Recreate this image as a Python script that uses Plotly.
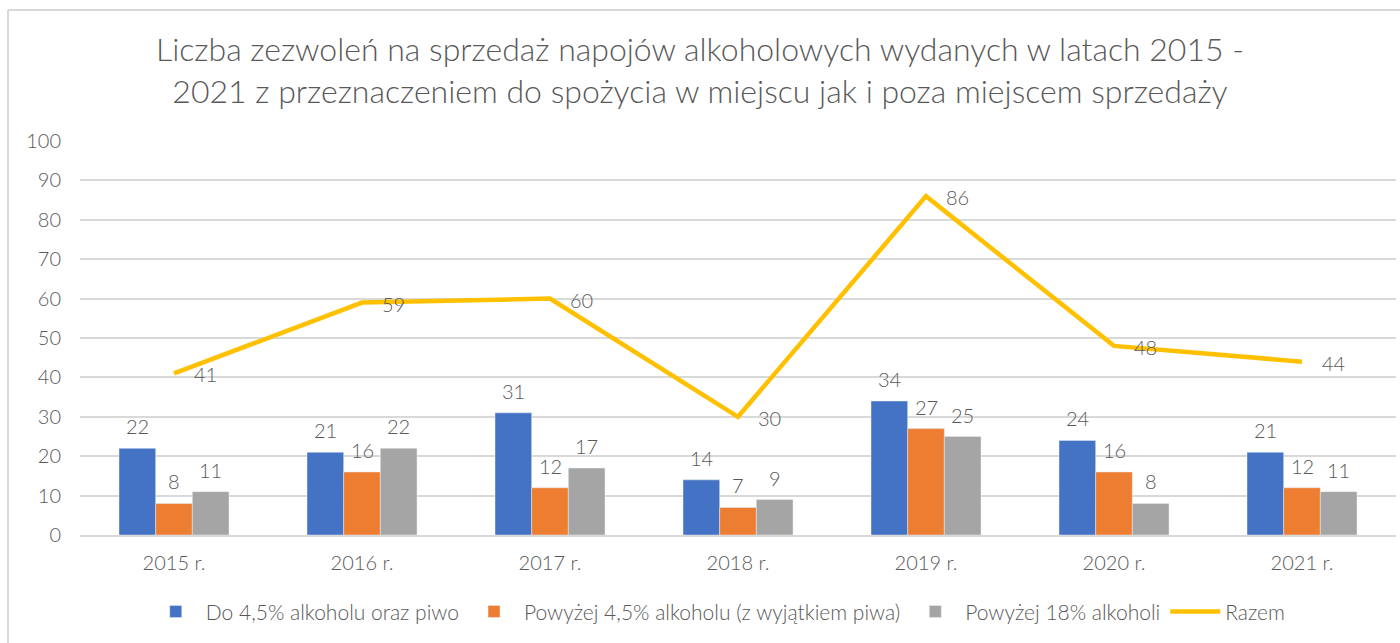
"""Liczba zezwoleń na sprzedaż napojów alkoholowych 2015-2021."""

import plotly.graph_objects as go

years = ["2015 r.", "2016 r.", "2017 r.", "2018 r.", "2019 r.", "2020 r.", "2021 r."]
do_45 = [22, 21, 31, 14, 34, 24, 21]
powyzej_45 = [8, 16, 12, 7, 27, 16, 12]
powyzej_18 = [11, 22, 17, 9, 25, 8, 11]
razem = [41, 59, 60, 30, 86, 48, 44]
y_ticks = list(range(0, 101, 10))

TXT = "#595959"
FONT = "Lato"
BAR_PX = 36.7  # pixel width of one bar in a group

series = [
    ("Do 4,5% alkoholu oraz piwo", do_45, "#4472C4"),
    ("Powyżej 4,5% alkoholu (z wyjątkiem piwa)", powyzej_45, "#ED7D31"),
    ("Powyżej 18% alkoholi", powyzej_18, "#A5A5A5"),
]

fig = go.Figure()

for idx, (name, vals, color) in enumerate(series):
    fig.add_trace(
        go.Bar(x=years, y=vals, name=name, marker_color=color)
    )
    # value labels above bars
    for yr, v in zip(years, vals):
        fig.add_annotation(
            x=yr, y=v, text=str(v), showarrow=False,
            xshift=(idx - 1) * BAR_PX, yshift=8, yanchor="bottom",
            font=dict(size=20, color=TXT, family=FONT, weight=300),
        )

fig.add_trace(
    go.Scatter(
        x=years,
        y=razem,
        name="Razem",
        mode="lines",
        line=dict(color="#FFC000", width=4.5),
        cliponaxis=False,
    )
)
for yr, v in zip(years, razem):
    fig.add_annotation(
        x=yr, y=v, text=str(v), showarrow=False,
        xanchor="left", xshift=18, yshift=-1,
        font=dict(size=20, color=TXT, family=FONT, weight=300),
    )

# outer chart border (left and top only visible)
fig.add_shape(type="line", xref="paper", yref="paper",
              x0=-0.0547, x1=-0.0547, y0=-0.3, y1=1.3325,
              line=dict(color="#D9D9D9", width=2))
fig.add_shape(type="line", xref="paper", yref="paper",
              x0=-0.0547, x1=1.01, y0=1.3325, y1=1.3325,
              line=dict(color="#D9D9D9", width=2))

fig.update_layout(
    title=dict(
        text="Liczba zezwoleń na sprzedaż napojów alkoholowych wydanych w latach 2015 -<br>"
             "2021 z przeznaczeniem do spożycia w miejscu jak i poza miejscem sprzedaży",
        x=0.5,
        xanchor="center",
        y=0.905,
        yanchor="middle",
        font=dict(size=32, color=TXT, family=FONT, weight=300),
    ),
    width=1400,
    height=643,
    margin=dict(l=80, r=4, t=141, b=108),
    barmode="group",
    bargap=0.415,
    bargroupgap=0,
    plot_bgcolor="white",
    paper_bgcolor="white",
    font=dict(family=FONT, color=TXT, size=20, weight=300),
    legend=dict(
        orientation="h",
        x=0.485,
        xanchor="center",
        y=-0.195,
        yanchor="middle",
        font=dict(size=21, color=TXT, family=FONT, weight=300),
        traceorder="normal",
        itemwidth=50,
    ),
    showlegend=True,
)

fig.update_yaxes(
    range=[0, 100],
    tickvals=y_ticks,
    showgrid=True,
    gridcolor="#D9D9D9",
    gridwidth=1.5,
    zeroline=False,
    showline=False,
    ticks="",
    ticklabelstandoff=18,
    tickfont=dict(size=20, color=TXT, family=FONT, weight=300),
)
fig.update_xaxes(
    showgrid=False,
    showline=True,
    linecolor="#D9D9D9",
    linewidth=1.5,
    ticks="",
    ticklabelstandoff=9,
    tickfont=dict(size=20, color=TXT, family=FONT, weight=300),
)

fig.write_html(
    "out.html",
    config={"displayModeBar": False},
    post_script="document.body.style.margin='0';",
)
